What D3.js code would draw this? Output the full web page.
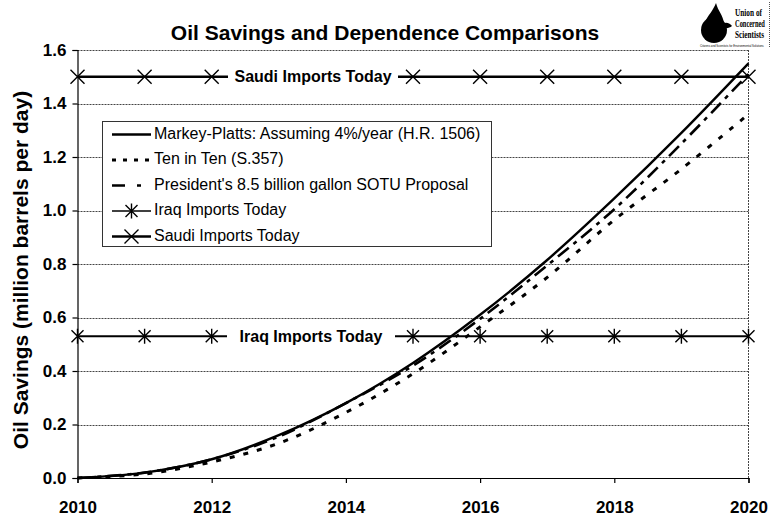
<!DOCTYPE html>
<html><head><meta charset="utf-8">
<script src="https://cdn.jsdelivr.net/npm/d3@7"></script>
<style>
html,body{margin:0;padding:0;background:#fff;}
svg{display:block;font-family:"Liberation Sans",Arial,Helvetica,sans-serif;}
</style></head><body>
<svg id="chart" width="771" height="519"></svg>
<script>
// Oil savings (million barrels per day), 2010–2020
const years = [2010, 2011, 2012, 2013, 2014, 2015, 2016, 2017, 2018, 2019, 2020];
const markeyPlatts  = [0, 0.02, 0.07, 0.16, 0.28, 0.43, 0.61, 0.815, 1.045, 1.29, 1.55];
const tenInTen      = [0, 0.015, 0.06, 0.13, 0.245, 0.39, 0.565, 0.75, 0.965, 1.155, 1.36];
const presidentSOTU = [0, 0.02, 0.07, 0.155, 0.28, 0.42, 0.595, 0.795, 1.005, 1.25, 1.51];
const iraqImports   = [0.53, 0.53, 0.53, 0.53, 0.53, 0.53, 0.53, 0.53, 0.53, 0.53, 0.53];
const saudiImports  = [1.50, 1.50, 1.50, 1.50, 1.50, 1.50, 1.50, 1.50, 1.50, 1.50, 1.50];
// marker years hidden behind the in-chart labels
const labelledYears = [2013, 2014];

const yTicks = [0, 0.2, 0.4, 0.6, 0.8, 1.0, 1.2, 1.4, 1.6];
const xTicks = [2010, 2012, 2014, 2016, 2018, 2020];

const seriesNames = [
  "Markey-Platts: Assuming 4%/year (H.R. 1506)",
  "Ten in Ten (S.357)",
  "President's 8.5 billion gallon SOTU Proposal",
  "Iraq Imports Today",
  "Saudi Imports Today"
];

const svg = d3.select("#chart");
const x = d3.scaleLinear().domain([2010, 2020]).range([77.5, 748.5]);
const y = d3.scaleLinear().domain([0, 1.6]).range([478, 50]);

// title
svg.append("text").attr("x", 385).attr("y", 40).attr("text-anchor", "middle")
  .attr("font-size", 21).attr("font-weight", "bold").text("Oil Savings and Dependence Comparisons");

// gridlines and right border
const grid = svg.append("g").attr("stroke", "#444").attr("stroke-width", 1).attr("stroke-dasharray", "2,1");
grid.selectAll("line.h").data(yTicks.filter(d => d > 0)).join("line")
  .attr("x1", x(2010)).attr("x2", x(2020))
  .attr("y1", d => Math.round(y(d)) + 0.5).attr("y2", d => Math.round(y(d)) + 0.5);
grid.append("line").attr("x1", x(2020)).attr("x2", x(2020)).attr("y1", y(1.6)).attr("y2", y(0));

// axes
const yAxis = svg.append("g").attr("transform", `translate(${x(2010)},0)`)
  .call(d3.axisLeft(y).tickValues(yTicks).tickFormat(d3.format(".1f")).tickSize(5).tickPadding(6));
const xAxis = svg.append("g").attr("transform", `translate(0,${y(0)})`)
  .call(d3.axisBottom(x).tickValues(xTicks).tickFormat(d3.format("d")).tickSize(5).tickPadding(18));
[yAxis, xAxis].forEach(a => {
  a.select(".domain").attr("stroke", "#000").attr("stroke-width", 1.2);
  a.selectAll(".tick line").attr("stroke", "#000").attr("stroke-width", 1.2);
  a.selectAll(".tick text").attr("font-size", 17).attr("font-weight", "bold")
    .attr("font-family", "'Liberation Sans',Arial,sans-serif").attr("fill", "#000");
});

// y-axis title
svg.append("text").attr("transform", "translate(28,270) rotate(-90)").attr("text-anchor", "middle")
  .attr("font-size", 21).attr("font-weight", "bold").text("Oil Savings (million barrels per day)");

// marker shapes
const asterisk = "M-6,-6L6,6M-6,6L6,-6M0,-7.5L0,7.5";
const cross = "M-7,-7L7,7M-7,7L7,-7";

// reference lines: Iraq and Saudi imports
function refLine(values, width, marker, label, labelBox) {
  const g = svg.append("g");
  g.append("path").datum(values)
    .attr("d", d3.line().x((d, i) => x(years[i])).y(d => y(d)))
    .attr("fill", "none").attr("stroke", "#000").attr("stroke-width", width);
  g.selectAll("path.m").data(values.map((v, i) => ({ v, yr: years[i] })).filter(d => !labelledYears.includes(d.yr)))
    .join("path").attr("class", "m")
    .attr("transform", d => `translate(${x(d.yr)},${y(d.v)})`)
    .attr("d", marker).attr("stroke", "#000").attr("stroke-width", 1.4).attr("fill", "none");
  const cy = y(values[0]);
  g.append("rect").attr("x", labelBox[0]).attr("width", labelBox[1] - labelBox[0])
    .attr("y", cy - 10).attr("height", 20).attr("fill", "#fff");
  g.append("text").attr("x", (labelBox[0] + labelBox[1]) / 2).attr("y", cy + 1.5)
    .attr("text-anchor", "middle").attr("dominant-baseline", "middle")
    .attr("font-size", 16).attr("font-weight", "bold").text(label);
}
refLine(iraqImports, 1.8, asterisk, "Iraq Imports Today", [227, 395]);
refLine(saudiImports, 2.6, cross, "Saudi Imports Today", [228, 398]);

// policy curves
const curves = [
  { values: markeyPlatts, dash: null, width: 2.4 },
  { values: tenInTen, dash: "5,9", width: 3 },
  { values: presidentSOTU, dash: "14,6,4,6", width: 2.6 }
];
const lineGen = d3.line().x((d, i) => x(years[i])).y(d => y(d)).curve(d3.curveCatmullRom.alpha(0.5));
curves.forEach(c => {
  svg.append("path").datum(c.values).attr("d", lineGen)
    .attr("fill", "none").attr("stroke", "#000").attr("stroke-width", c.width)
    .attr("stroke-dasharray", c.dash);
});

// legend
const lg = svg.append("g");
lg.append("rect").attr("x", 102.5).attr("y", 121.5).attr("width", 389).attr("height", 125)
  .attr("fill", "#fff").attr("stroke", "#333").attr("stroke-width", 1);
const legendStyles = [
  { dash: null, width: 2.4 },
  { dash: "4,7", width: 3 },
  { dash: "13,12,4,20", width: 2.6 },
  { width: 1.6, marker: asterisk },
  { width: 2.6, marker: cross }
];
seriesNames.forEach((name, i) => {
  const ly = 134.5 + i * 25.5;
  const s = legendStyles[i];
  lg.append("line").attr("x1", 112).attr("x2", 151).attr("y1", ly).attr("y2", ly)
    .attr("stroke", "#000").attr("stroke-width", s.width).attr("stroke-dasharray", s.dash || null);
  if (s.marker) {
    lg.append("path").attr("transform", `translate(131.5,${ly})`).attr("d", s.marker)
      .attr("stroke", "#000").attr("stroke-width", 1.4).attr("fill", "none");
  }
  lg.append("text").attr("x", 154).attr("y", ly).attr("dominant-baseline", "middle")
    .attr("font-size", 16).text(name);
});

// organisation logo
const logo = svg.append("g");
logo.append("circle").attr("cx", 714).attr("cy", 30).attr("r", 13).attr("fill", "#000");
logo.append("path").attr("d", "M705,22 C708,15 713,11 716,3 C718,11 723,15 724,23 Z").attr("fill", "#000");
logo.append("path").attr("d", "M721,25 C725,21 730,23 732,26 C728,29 724,29 721,25 Z").attr("fill", "#000");

// condensed text: squeeze horizontally to a target width
function condensedText(parent, str, tx, ty, width, size, family, weight) {
  const t = parent.append("text").attr("font-family", family).attr("font-weight", weight)
    .attr("font-size", size).text(str);
  const natural = t.node().getComputedTextLength();
  t.attr("transform", `translate(${tx},${ty}) scale(${width / natural},1)`);
  return t;
}
const serif = "'Liberation Serif','DejaVu Serif',serif";
condensedText(logo, "Union of", 735, 16, 27, 10, serif, "bold");
condensedText(logo, "Concerned", 735, 27, 30, 10, serif, "bold");
condensedText(logo, "Scientists", 735, 38, 29, 10, serif, "bold");
condensedText(logo, "Citizens and Scientists for Environmental Solutions", 700, 47, 64, 4, "'Liberation Sans',Arial,sans-serif", "normal");
logo.append("line").attr("x1", 769.5).attr("x2", 769.5).attr("y1", 2).attr("y2", 48)
  .attr("stroke", "#555").attr("stroke-dasharray", "1,1");
</script>
</body></html>
